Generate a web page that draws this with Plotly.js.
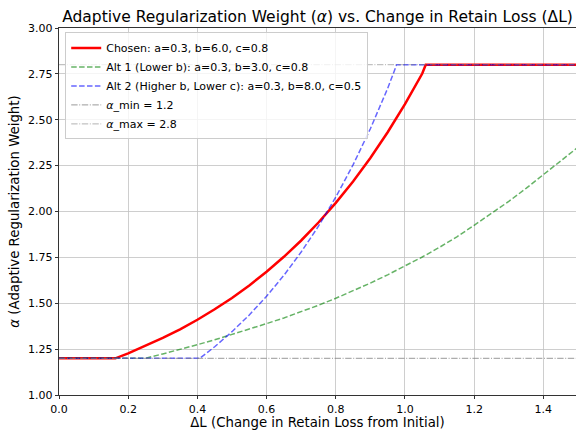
<!DOCTYPE html>
<html>
<head>
<meta charset="utf-8">
<script src="https://cdn.plot.ly/plotly-3.0.1.min.js"></script>
<style>html,body{margin:0;padding:0;background:#fff;}#chart{width:576px;height:430px;}</style>
</head>
<body>
<div id="chart"></div>
<script>
// Chosen: a=0.3, b=6.0, c=0.8
const chosenDL    = [0, 0.163, 0.2, 0.25, 0.3, 0.35, 0.4, 0.45, 0.5, 0.55, 0.6, 0.65, 0.7, 0.75, 0.8, 0.85, 0.9, 0.95, 1.0, 1.05, 1.06, 1.5];
const chosenAlpha = [1.2, 1.2, 1.227, 1.267, 1.311, 1.358, 1.410, 1.467, 1.529, 1.597, 1.672, 1.753, 1.842, 1.940, 2.047, 2.164, 2.292, 2.432, 2.585, 2.752, 2.8, 2.8];
// Alt 1 (Lower b): a=0.3, b=3.0, c=0.8
const alt1DL    = [0, 0.25, 0.3, 0.35, 0.4, 0.45, 0.5, 0.55, 0.6, 0.65, 0.7, 0.75, 0.8, 0.85, 0.9, 0.95, 1.0, 1.05, 1.1, 1.15, 1.2, 1.25, 1.3, 1.35, 1.4, 1.45, 1.5];
const alt1Alpha = [1.2, 1.2, 1.224, 1.248, 1.274, 1.301, 1.329, 1.357, 1.389, 1.420, 1.453, 1.489, 1.527, 1.567, 1.610, 1.655, 1.703, 1.752, 1.805, 1.862, 1.925, 1.988, 2.055, 2.126, 2.200, 2.275, 2.350];
// Alt 2 (Higher b, Lower c): a=0.3, b=8.0, c=0.5
const alt2DL    = [0, 0.407, 0.45, 0.5, 0.55, 0.6, 0.65, 0.7, 0.75, 0.8, 0.85, 0.9, 0.95, 0.976, 1.5];
const alt2Alpha = [1.2, 1.2, 1.263, 1.345, 1.436, 1.538, 1.652, 1.779, 1.920, 2.078, 2.254, 2.451, 2.671, 2.8, 2.8];
// bounds
const boundDL  = [0, 1.5];
const alphaMin = 1.2;
const alphaMax = 2.8;

const font = 'DejaVu Sans, Liberation Sans, sans-serif';

const traces = [
  {x: chosenDL, y: chosenAlpha, mode: 'lines', name: 'Chosen: a=0.3, b=6.0, c=0.8',
   line: {color: 'rgb(255,0,0)', width: 2.5}},
  {x: alt1DL, y: alt1Alpha, mode: 'lines', name: 'Alt 1 (Lower b): a=0.3, b=3.0, c=0.8',
   line: {color: 'rgba(0,128,0,0.6)', width: 1.5, dash: '5.5px,2.4px'}},
  {x: alt2DL, y: alt2Alpha, mode: 'lines', name: 'Alt 2 (Higher b, Lower c): a=0.3, b=8.0, c=0.5',
   line: {color: 'rgba(0,0,255,0.6)', width: 1.5, dash: '5.5px,2.4px'}},
  {x: boundDL, y: boundDL.map(() => alphaMin), mode: 'lines', name: '<i>α</i>_min = 1.2',
   line: {color: 'rgba(128,128,128,0.8)', width: 1, dash: '6.4px,1.6px,1px,1.6px'}},
  {x: boundDL, y: boundDL.map(() => alphaMax), mode: 'lines', name: '<i>α</i>_max = 2.8',
   line: {color: 'rgba(128,128,128,0.6)', width: 1, dash: '6.4px,1.6px,1px,1.6px'}}
];

const axisCommon = {
  ticks: 'outside', ticklen: 3.5, tickwidth: 0.8, tickcolor: '#000',
  showline: true, linecolor: '#000', linewidth: 0.8,
  showgrid: true, gridcolor: '#c2c2c2', gridwidth: 0.8,
  zeroline: false,
  tickfont: {family: font, size: 11, color: '#000'}
};

const layout = {
  width: 576, height: 430,
  margin: {l: 59, r: 0, t: 28, b: 35, pad: 0},
  paper_bgcolor: '#fff', plot_bgcolor: '#fff',
  font: {family: font, color: '#000'},
  title: {text: 'Adaptive Regularization Weight (<i>α</i>) vs. Change in Retain Loss (ΔL)',
          font: {family: font, size: 15.5, color: '#000'},
          x: 0.5, xref: 'paper', xanchor: 'center',
          y: 1 - 17/430, yref: 'container', yanchor: 'middle'},
  xaxis: Object.assign({}, axisCommon, {
    range: [0, 1.4944], tick0: 0, dtick: 0.2, tickformat: '.1f', mirror: true,
    title: {text: 'ΔL (Change in Retain Loss from Initial)', font: {family: font, size: 13.3, color: '#000'}, standoff: 3}
  }),
  yaxis: Object.assign({}, axisCommon, {
    range: [1, 3], tick0: 1, dtick: 0.25, tickformat: '.2f', mirror: false,
    title: {text: '<i>α</i> (Adaptive Regularization Weight)', font: {family: font, size: 13.3, color: '#000'}, standoff: 5}
  }),
  showlegend: true,
  legend: {x: 0.012, y: 0.988, xanchor: 'left', yanchor: 'top',
           bgcolor: 'rgba(255,255,255,0.8)', bordercolor: '#cccccc', borderwidth: 1,
           font: {family: font, size: 11, color: '#000'}, itemwidth: 30, tracegroupgap: 0}
};

Plotly.newPlot('chart', traces, layout, {staticPlot: true, displayModeBar: false});
</script>
</body>
</html>
